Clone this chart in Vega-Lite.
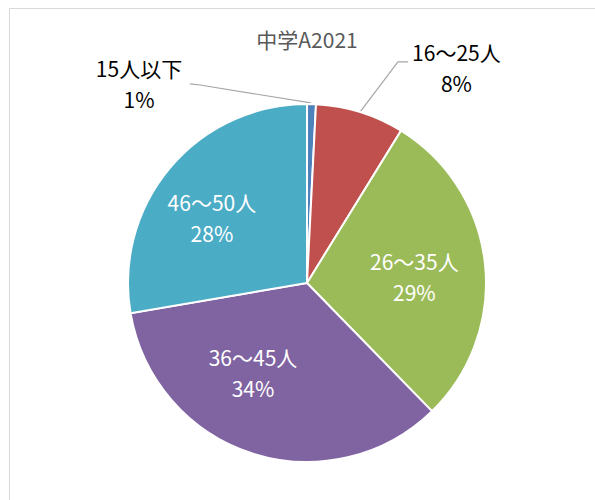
{
  "$schema": "https://vega.github.io/schema/vega-lite/v6.json",
  "width": 586,
  "height": 492,
  "autosize": {"type": "none"},
  "padding": {"left": 9, "top": 8, "right": 0, "bottom": 0},
  "background": "white",
  "config": {
    "view": {"stroke": "#D9D9D9", "strokeWidth": 1},
    "font": "Noto Sans CJK JP",
    "text": {"font": "Noto Sans CJK JP", "lineBreak": "\n"}
  },
  "title": {
    "text": "中学A2021",
    "font": "Noto Sans CJK JP",
    "fontSize": 21,
    "fontWeight": "normal",
    "color": "#595959",
    "anchor": "middle",
    "offset": -44,
    "dx": 5
  },
  "datasets": {
    "slices": [
      {"cat": "15人以下", "value": 0.8, "label": "15人以下\n1%"},
      {"cat": "16〜25人", "value": 8.0, "label": "16〜25人\n8%"},
      {"cat": "26〜35人", "value": 28.9, "label": "26〜35人\n29%"},
      {"cat": "36〜45人", "value": 34.6, "label": "36〜45人\n34%"},
      {"cat": "46〜50人", "value": 27.7, "label": "46〜50人\n28%"}
    ],
    "leaders": [
      {"id": 1, "i": 0, "x": -0.654, "y": 1.112},
      {"id": 1, "i": 1, "x": -0.598, "y": 1.106},
      {"id": 1, "i": 2, "x": 0.022, "y": 1.006},
      {"id": 2, "i": 0, "x": 0.564, "y": 1.235},
      {"id": 2, "i": 1, "x": 0.508, "y": 1.235},
      {"id": 2, "i": 2, "x": 0.296, "y": 0.955}
    ]
  },
  "layer": [
    {
      "data": {"name": "leaders"},
      "mark": {"type": "line", "color": "#A6A6A6", "strokeWidth": 1.2},
      "encoding": {
        "x": {"field": "x", "type": "quantitative", "scale": {"domain": [-1.6648, 1.6089], "nice": false, "zero": false}, "axis": null},
        "y": {"field": "y", "type": "quantitative", "scale": {"domain": [-1.2123, 1.5363], "nice": false, "zero": false}, "axis": null},
        "detail": {"field": "id", "type": "nominal"},
        "order": {"field": "i", "type": "quantitative"}
      }
    },
    {
      "data": {"name": "slices"},
      "mark": {"type": "arc", "outerRadius": 179, "stroke": "white", "strokeWidth": 2},
      "encoding": {
        "x": {"datum": 0, "type": "quantitative"},
        "y": {"datum": 0, "type": "quantitative"},
        "theta": {"field": "value", "type": "quantitative", "stack": true},
        "order": {"field": "cat", "type": "ordinal", "sort": "ascending"},
        "color": {
          "field": "cat",
          "type": "nominal",
          "scale": {
            "domain": ["15人以下", "16〜25人", "26〜35人", "36〜45人", "46〜50人"],
            "range": ["#4F81BD", "#C0504D", "#9BBB59", "#8064A2", "#4BACC6"]
          },
          "legend": null
        }
      }
    },
    {
      "data": {"name": "slices"},
      "mark": {"type": "text", "radius": 200, "dx": -173, "dy": -12, "fontSize": 21, "letterSpacing": 0.8, "lineHeight": 31, "color": "#000000", "align": "center", "baseline": "middle"},
      "encoding": {
        "x": {"datum": 0, "type": "quantitative"},
        "y": {"datum": 0, "type": "quantitative"},
        "theta": {"field": "value", "type": "quantitative", "stack": true},
        "order": {"field": "cat", "type": "ordinal", "sort": "ascending"},
        "detail": {"field": "cat", "type": "nominal"},
        "text": {"condition": {"test": "datum.cat === '15人以下'", "field": "label"}, "value": ""}
      }
    },
    {
      "data": {"name": "slices"},
      "mark": {"type": "text", "radius": 200, "dx": 90, "dy": -37, "fontSize": 21, "letterSpacing": 0.8, "lineHeight": 31, "color": "#000000", "align": "center", "baseline": "middle"},
      "encoding": {
        "x": {"datum": 0, "type": "quantitative"},
        "y": {"datum": 0, "type": "quantitative"},
        "theta": {"field": "value", "type": "quantitative", "stack": true},
        "order": {"field": "cat", "type": "ordinal", "sort": "ascending"},
        "detail": {"field": "cat", "type": "nominal"},
        "text": {"condition": {"test": "datum.cat === '16〜25人'", "field": "label"}, "value": ""}
      }
    },
    {
      "data": {"name": "slices"},
      "mark": {"type": "text", "radius": 110, "dx": -2, "dy": -7, "fontSize": 21, "letterSpacing": 0.8, "lineHeight": 31, "color": "white", "align": "center", "baseline": "middle"},
      "encoding": {
        "x": {"datum": 0, "type": "quantitative"},
        "y": {"datum": 0, "type": "quantitative"},
        "theta": {"field": "value", "type": "quantitative", "stack": true},
        "order": {"field": "cat", "type": "ordinal", "sort": "ascending"},
        "detail": {"field": "cat", "type": "nominal"},
        "text": {"condition": {"test": "datum.cat === '26〜35人'", "field": "label"}, "value": ""}
      }
    },
    {
      "data": {"name": "slices"},
      "mark": {"type": "text", "radius": 110, "dx": -20, "dy": -28, "fontSize": 21, "letterSpacing": 0.8, "lineHeight": 31, "color": "white", "align": "center", "baseline": "middle"},
      "encoding": {
        "x": {"datum": 0, "type": "quantitative"},
        "y": {"datum": 0, "type": "quantitative"},
        "theta": {"field": "value", "type": "quantitative", "stack": true},
        "order": {"field": "cat", "type": "ordinal", "sort": "ascending"},
        "detail": {"field": "cat", "type": "nominal"},
        "text": {"condition": {"test": "datum.cat === '36〜45人'", "field": "label"}, "value": ""}
      }
    },
    {
      "data": {"name": "slices"},
      "mark": {"type": "text", "radius": 110, "dx": -11, "dy": -7, "fontSize": 21, "letterSpacing": 0.8, "lineHeight": 31, "color": "white", "align": "center", "baseline": "middle"},
      "encoding": {
        "x": {"datum": 0, "type": "quantitative"},
        "y": {"datum": 0, "type": "quantitative"},
        "theta": {"field": "value", "type": "quantitative", "stack": true},
        "order": {"field": "cat", "type": "ordinal", "sort": "ascending"},
        "detail": {"field": "cat", "type": "nominal"},
        "text": {"condition": {"test": "datum.cat === '46〜50人'", "field": "label"}, "value": ""}
      }
    }
  ]
}
